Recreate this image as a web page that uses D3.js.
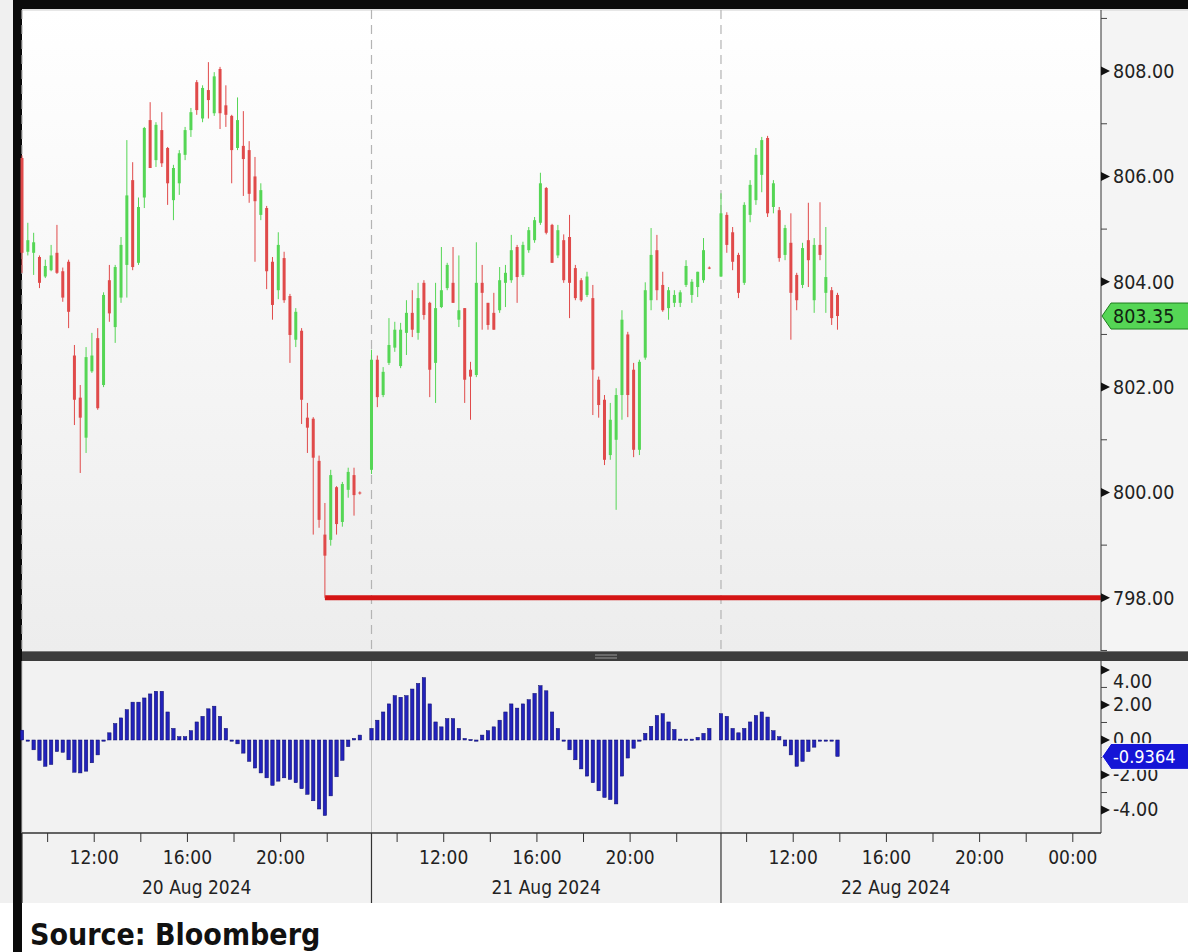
<!DOCTYPE html>
<html>
<head>
<meta charset="utf-8">
<script src="https://cdn.jsdelivr.net/npm/d3@7"></script>
<style>
  body { margin: 0; background: #fff; }
  svg { display: block; font-family: "DejaVu Sans Condensed", "DejaVu Sans", sans-serif; }
</style>
</head>
<body>
<script>
// ---- data (15 min bars, [open, high, low, close]) ----
var days = ["20 Aug 2024", "21 Aug 2024", "22 Aug 2024"];

var bars20 = [
  [806.35,806.40,804.17,804.55],[804.57,805.12,804.50,804.79],[804.55,804.93,804.13,804.75],[804.47,804.50,803.88,803.98],
  [804.10,804.42,804.07,804.30],[804.22,804.70,804.20,804.50],[804.55,805.08,804.15,804.17],[804.20,804.27,803.62,803.70],
  [804.38,804.42,803.12,803.43],[802.60,802.80,801.28,801.76],[801.80,802.04,800.37,801.42],[801.04,802.76,800.75,802.57],
  [802.30,803.03,802.27,802.60],[802.93,803.12,801.57,801.60],[802.04,803.80,802.00,803.75],[804.03,804.32,803.24,803.40],
  [803.14,804.32,802.84,804.28],[803.70,804.85,803.60,804.70],[804.32,806.69,803.70,805.64],[805.93,806.27,804.22,804.28],
  [804.36,805.60,804.32,805.42],[805.60,806.94,805.40,806.92],[807.07,807.41,806.16,806.16],[806.31,807.03,806.18,806.98],
  [806.88,807.22,806.18,806.25],[806.54,806.56,805.46,805.87],[805.55,806.22,805.17,806.16],[805.87,806.50,805.65,806.44],
  [806.41,806.94,806.31,806.88],[806.88,807.30,806.75,807.22],[807.79,807.83,807.17,807.26],[807.10,807.73,807.03,807.68],
  [807.64,808.17,807.10,807.45],[807.20,807.98,807.15,807.90],[808.04,808.08,806.90,807.20],[807.35,807.73,806.94,807.17],
  [807.15,807.17,805.87,806.50],[806.54,807.50,806.50,807.07],[806.58,807.24,805.63,806.33],[806.50,806.67,805.50,805.67],
  [806.00,806.37,804.38,805.53],[805.27,805.87,805.17,805.74],[805.40,805.44,803.86,804.20],[804.38,804.47,803.28,803.56],
  [803.84,804.94,803.67,804.70],[804.45,804.57,803.60,803.65],[803.73,803.77,802.46,802.99],[802.90,803.50,802.76,803.43],
  [803.07,803.12,801.30,801.76],[801.42,801.70,800.75,801.23],[801.40,801.43,799.20,800.66],[800.60,800.70,799.33,799.48],
  [799.20,799.80,798.00,798.80],[799.10,800.43,798.99,800.33],[800.10,800.12,799.20,799.40],[799.44,800.20,799.35,800.16],
  [800.05,800.47,799.90,800.39],[800.33,800.47,799.56,799.95],[800.00,800.02,799.96,799.98]
];

var bars21 = [
  [800.43,802.71,800.35,802.52],[802.52,802.60,801.62,801.81],[801.85,802.38,801.81,802.29],[802.46,803.31,802.42,802.80],
  [802.75,803.24,802.67,803.09],[802.40,803.22,802.36,803.09],[803.03,803.65,802.61,803.41],[803.41,803.84,802.95,803.09],
  [803.03,803.98,802.90,803.69],[803.98,804.03,803.28,803.37],[803.60,803.62,801.81,802.33],[802.46,803.98,801.70,803.50],
  [803.52,804.66,803.50,803.84],[803.88,804.36,803.84,804.32],[803.98,804.66,803.60,803.60],[803.28,804.50,803.14,803.46],
  [803.50,803.50,801.70,802.14],[802.33,802.48,801.38,802.20],[802.23,804.75,802.19,803.98],[803.98,804.32,803.09,803.79],
  [803.60,803.60,803.09,803.18],[803.41,803.79,803.09,803.09],[803.46,804.28,803.41,804.03],[803.98,804.32,803.52,804.17],
  [804.03,804.89,803.98,804.60],[804.66,804.70,803.60,804.09],[804.13,804.76,804.09,804.70],[804.60,805.04,804.55,804.98],
  [804.79,805.23,804.74,805.17],[805.12,806.07,805.08,805.87],[805.78,805.80,804.90,804.93],[805.08,805.10,804.36,804.36],
  [804.50,805.08,804.45,804.98],[804.79,804.90,803.98,804.03],[804.85,805.27,803.31,803.98],[804.26,804.32,803.65,803.69],
  [804.03,804.07,803.62,803.65],[803.75,804.19,803.71,804.10],[803.69,803.94,801.47,802.33],[802.14,802.20,801.42,801.66],
  [801.76,801.85,800.52,800.62],[800.71,801.70,800.62,801.38],[801.00,801.98,799.67,801.85],[801.85,803.46,801.38,803.28],
  [803.00,803.05,801.43,801.85],[802.33,802.46,800.67,800.81],[800.81,802.52,800.71,802.48],[802.56,803.99,802.52,803.84],
  [803.65,805.02,803.46,804.51],[804.60,804.89,803.65,803.84],[803.94,804.19,803.43,803.46],[803.50,803.90,803.28,803.84],
  [803.60,803.84,803.52,803.75],[803.60,803.84,803.52,803.80],[803.94,804.41,803.90,804.30],[803.75,804.05,803.60,804.00],
  [803.90,804.19,803.71,804.19],[804.03,804.83,803.98,804.60],[804.27,804.29,804.24,804.25]
];

var bars22 = [
  [804.10,805.68,804.09,805.30],[805.27,805.32,804.55,804.70],[804.94,805.04,804.22,804.38],[804.51,804.55,803.69,803.79],
  [803.98,805.51,803.94,805.46],[805.27,805.93,805.13,805.84],[805.55,806.54,805.46,806.41],[806.03,806.75,805.70,806.69],
  [806.73,806.77,805.23,805.30],[805.42,805.93,805.30,805.87],[805.36,805.42,804.38,804.45],[804.51,805.08,804.41,805.02],
  [804.74,805.30,802.90,803.79],[804.13,804.17,803.46,803.65],[803.94,804.74,803.88,804.64],[804.79,805.50,803.90,804.41],
  [803.65,804.83,803.41,804.70],[804.70,805.51,804.41,804.51],[803.79,805.04,803.41,804.09],[803.84,803.90,803.18,803.31],
  [803.75,803.79,803.09,803.35]
];

// lower study (histogram), one value per bar
var hist20 = [0.56,-0.05,-0.56,-1.16,-1.5,-1.4,-0.66,-0.7,-1.13,-1.84,-1.88,-1.78,-1.3,-0.85,-0.05,
  0.41,0.94,1.26,1.73,2.16,2.16,2.4,2.63,2.78,2.78,1.6,0.66,0.19,0.19,0.53,1.03,1.35,1.78,1.93,1.35,0.66,
  -0.02,-0.22,-0.75,-1.22,-1.6,-1.88,-2.16,-2.59,-2.35,-2.16,-2.25,-2.44,-2.78,-3.1,-3.47,-3.94,-4.31,
  -3.19,-2.1,-1.16,-0.38,0.09,0.28];
var hist21 = [0.66,1.13,1.6,2.06,2.53,2.44,2.53,2.91,3.23,3.56,2.06,1.03,0.75,1.22,1.22,0.66,0.09,0.03,-0.05,
  0.28,0.53,0.75,1.13,1.6,2.06,1.82,2.06,2.3,2.66,3.1,2.81,1.6,0.66,-0.05,-0.56,-1.13,-1.65,-2.06,-2.44,
  -2.9,-3.28,-3.4,-3.65,-2.06,-1.03,-0.47,-0.05,0.38,0.78,1.4,1.5,1.03,0.6,0.05,0.05,0.05,0.15,0.38,0.66];
var hist22 = [1.5,1.35,0.66,0.41,0.66,1.03,1.4,1.6,1.31,0.53,0.19,-0.34,-0.85,-1.5,-1.22,-0.66,-0.41,
  -0.05,-0.05,-0.05,-0.9364];

var priceTicks = [798, 800, 802, 804, 806, 808];
var priceMinor = [797, 799, 801, 803, 805, 807, 809];
var histTicks = [4, 2, 0, -2, -4];
var histMinor = [3, 1, -1, -3];
var hourTicks = [10, 12, 14, 16, 18, 20, 22];
var hourLabels = [12, 16, 20];
var lastPrice = 803.35;
var lastHist = -0.9364;
var lowLevel = 798.00;

// ---- layout ----
var W = 1188, H = 952;
var X0 = 22, X1 = 1101, TOP = 10, MID = 651, LTOP = 661, BOT = 833;
var sessionHours = 15, sessionStart = 8.9, barHours = 0.25;

// plain hyphen for negatives, like the terminal
var loc = d3.formatLocale({decimal: ".", thousands: ",", grouping: [3], currency: ["", ""], minus: "-"});
var f2 = loc.format(".2f"), f4 = loc.format(".4f");

var allBars = [bars20, bars21, bars22];
var allHist = [hist20, hist21, hist22];
var candles = [], hist = [];
allBars.forEach(function(list, di) {
  list.forEach(function(b, i) {
    candles.push({t: di * sessionHours + i * barHours, o: b[0], h: b[1], l: b[2], c: b[3]});
  });
  allHist[di].forEach(function(v, i) {
    hist.push({t: di * sessionHours + i * barHours, v: v});
  });
});

var x = d3.scaleLinear().domain([0, 46.31]).range([X0, X1]);
var y = d3.scaleLinear().domain([796.99, 809.16]).range([MID, TOP]);
var yh = d3.scaleLinear().domain([-5.31, 4.51]).range([BOT, LTOP]);

var svg = d3.select("body").append("svg").attr("width", W).attr("height", H);

var defs = svg.append("defs");
var grad = defs.append("linearGradient").attr("id", "bg").attr("x1", 0).attr("y1", 0).attr("x2", 0).attr("y2", 1);
grad.append("stop").attr("offset", "0%").attr("stop-color", "#ffffff");
grad.append("stop").attr("offset", "100%").attr("stop-color", "#ededed");

// backgrounds
svg.append("rect").attr("width", W).attr("height", H).attr("fill", "#f0f0f0");
svg.append("rect").attr("x", X0).attr("y", TOP).attr("width", X1 - X0).attr("height", MID - TOP).attr("fill", "url(#bg)");
svg.append("rect").attr("x", X1).attr("y", TOP).attr("width", W - X1).attr("height", MID - TOP).attr("fill", "#f4f4f4");
svg.append("rect").attr("x", X0).attr("y", LTOP).attr("width", W - X0).attr("height", BOT - LTOP).attr("fill", "#f2f2f2");
svg.append("rect").attr("x", X0).attr("y", BOT).attr("width", W - X0).attr("height", 70).attr("fill", "#f2f2f2");
svg.append("rect").attr("x", X0).attr("y", 903).attr("width", W - X0).attr("height", H - 903).attr("fill", "#ffffff");
svg.append("rect").attr("x", 0).attr("y", 903).attr("width", 13).attr("height", H - 903).attr("fill", "#ffffff");

// frame
svg.append("rect").attr("x", 13).attr("y", 0).attr("width", W - 13).attr("height", 9).attr("fill", "#0a0a0a");
svg.append("rect").attr("x", 13).attr("y", 0).attr("width", 9).attr("height", H).attr("fill", "#0a0a0a");
svg.append("line").attr("x1", X0).attr("x2", W).attr("y1", TOP).attr("y2", TOP).attr("stroke", "#cfcfcf");

// day boundaries
var dayStarts = days.map(function(d, i) { return i * sessionHours; });
svg.selectAll("line.daydash").data(dayStarts).enter().append("line")
  .attr("x1", function(d) { return x(d); }).attr("x2", function(d) { return x(d); })
  .attr("y1", TOP).attr("y2", MID)
  .attr("stroke", "#b4b4b4").attr("stroke-width", 1.2).attr("stroke-dasharray", "9,6");
svg.selectAll("line.daylow").data(dayStarts).enter().append("line")
  .attr("x1", function(d) { return x(d); }).attr("x2", function(d) { return x(d); })
  .attr("y1", LTOP).attr("y2", BOT)
  .attr("stroke", "#c4c4c4").attr("stroke-width", 1);

// low level line
var lowBar = candles.filter(function(c) { return c.l === lowLevel; })[0];
svg.append("line").attr("x1", x(lowBar.t)).attr("x2", X1)
  .attr("y1", y(lowLevel)).attr("y2", y(lowLevel))
  .attr("stroke", "#d41414").attr("stroke-width", 5);

// candles
var up = "#55d655", down = "#e04a4a";
var cg = svg.append("g");
cg.selectAll("line").data(candles).enter().append("line")
  .attr("x1", function(d) { return x(d.t); }).attr("x2", function(d) { return x(d.t); })
  .attr("y1", function(d) { return y(d.h); }).attr("y2", function(d) { return y(d.l); })
  .attr("stroke", function(d) { return d.c >= d.o ? up : down; }).attr("stroke-width", 1);
cg.selectAll("rect").data(candles).enter().append("rect")
  .attr("x", function(d) { return x(d.t) - 1.5; }).attr("width", 3)
  .attr("y", function(d) { return y(Math.max(d.o, d.c)); })
  .attr("height", function(d) { return Math.max(1, Math.abs(y(d.o) - y(d.c))); })
  .attr("fill", function(d) { return d.c >= d.o ? up : down; });

// histogram
svg.append("g").selectAll("rect").data(hist).enter().append("rect")
  .attr("x", function(d) { return x(d.t) - 1.7; }).attr("width", 3.4)
  .attr("y", function(d) { return Math.min(yh(d.v), yh(0)); })
  .attr("height", function(d) { return Math.max(1.2, Math.abs(yh(d.v) - yh(0))); })
  .attr("fill", "#2222bb").attr("stroke", "#0b0b66").attr("stroke-width", 0.5);

// separator between panels
svg.append("rect").attr("x", X0).attr("y", MID).attr("width", W - X0).attr("height", LTOP - MID).attr("fill", "#3c3c3c");
svg.append("line").attr("x1", X0).attr("x2", W).attr("y1", MID + 0.5).attr("y2", MID + 0.5).attr("stroke", "#7a7a7a");
[655, 658].forEach(function(gy) {
  svg.append("line").attr("x1", 595).attr("x2", 617).attr("y1", gy).attr("y2", gy).attr("stroke", "#8a8a8a").attr("stroke-width", 1.2);
});

// right axis lines
svg.append("line").attr("x1", X1).attr("x2", X1).attr("y1", TOP).attr("y2", MID).attr("stroke", "#333");
svg.append("line").attr("x1", X1).attr("x2", X1).attr("y1", LTOP).attr("y2", BOT).attr("stroke", "#333");
svg.append("line").attr("x1", X0).attr("x2", X1).attr("y1", BOT).attr("y2", BOT).attr("stroke", "#333").attr("stroke-width", 1.5);

var arrow = "M0,-4.5L9,0L0,4.5Z";

// price axis
var pAxis = svg.append("g").attr("transform", "translate(" + X1 + ",0)")
  .call(d3.axisRight(y).tickValues(priceTicks).tickFormat(f2).tickSize(0).tickPadding(12));
pAxis.select(".domain").remove();
pAxis.selectAll("text").attr("font-size", 19.5).attr("fill", "#222").attr("font-family", "DejaVu Sans Condensed, DejaVu Sans, sans-serif");
svg.selectAll("path.parrow").data(priceTicks).enter().append("path")
  .attr("d", arrow).attr("fill", "#111")
  .attr("transform", function(d) { return "translate(" + X1 + "," + y(d) + ")"; });
svg.selectAll("line.pminor").data(priceMinor).enter().append("line")
  .attr("x1", X1).attr("x2", X1 + 6)
  .attr("y1", function(d) { return y(d); }).attr("y2", function(d) { return y(d); })
  .attr("stroke", "#444");

// histogram axis
var hAxis = svg.append("g").attr("transform", "translate(" + X1 + ",0)")
  .call(d3.axisRight(yh).tickValues(histTicks).tickFormat(f2).tickSize(0).tickPadding(12));
hAxis.select(".domain").remove();
hAxis.selectAll("text").attr("font-size", 19.5).attr("fill", "#222").attr("font-family", "DejaVu Sans Condensed, DejaVu Sans, sans-serif");
hAxis.selectAll(".tick").attr("transform", function(d) { return "translate(0," + Math.max(yh(d), LTOP + 21) + ")"; });
svg.selectAll("path.harrow").data(histTicks).enter().append("path")
  .attr("d", arrow).attr("fill", "#111")
  .attr("transform", function(d) { return "translate(" + X1 + "," + yh(d) + ")"; });
svg.selectAll("line.hminor").data(histMinor).enter().append("line")
  .attr("x1", X1).attr("x2", X1 + 6)
  .attr("y1", function(d) { return yh(d); }).attr("y2", function(d) { return yh(d); })
  .attr("stroke", "#444");

// last value tags
function tag(yy, fill, stroke, textColor, label, size) {
  var g = svg.append("g").attr("transform", "translate(" + (X1 + 1) + "," + yy + ")");
  g.append("path").attr("d", "M0,0L9,-13L87,-13L87,13L9,13Z")
    .attr("fill", fill).attr("stroke", stroke).attr("stroke-width", 1);
  g.append("text").attr("x", 11).attr("y", 7).attr("font-size", size).attr("fill", textColor).text(label);
}
tag(y(lastPrice), "#55d655", "#1d7d1d", "#112211", f2(lastPrice), 19.5);
tag(yh(lastHist), "#1515d6", "#ffffff", "#ffffff", f4(lastHist), 18);

// time axis
var ticks = [];
days.forEach(function(d, di) {
  var hs = hourTicks.slice();
  if (di === days.length - 1) hs.push(24);
  hs.forEach(function(h) { ticks.push({t: di * sessionHours + h - sessionStart, h: h}); });
});
svg.selectAll("line.tt").data(ticks).enter().append("line")
  .attr("x1", function(d) { return x(d.t); }).attr("x2", function(d) { return x(d.t); })
  .attr("y1", BOT).attr("y2", BOT + 9).attr("stroke", "#333");
svg.selectAll("text.tl").data(ticks.filter(function(d) { return hourLabels.indexOf(d.h) >= 0 || d.h === 24; }))
  .enter().append("text")
  .attr("x", function(d) { return x(d.t); }).attr("y", 864)
  .attr("text-anchor", "middle").attr("font-size", 19).attr("fill", "#222")
  .text(function(d) { return (d.h === 24 ? "00" : d3.format("02d")(d.h)) + ":00"; });
svg.selectAll("line.dsep").data(dayStarts).enter().append("line")
  .attr("x1", function(d) { return x(d); }).attr("x2", function(d) { return x(d); })
  .attr("y1", BOT).attr("y2", 903).attr("stroke", "#333").attr("stroke-width", 1.2);
svg.selectAll("text.dl").data(days).enter().append("text")
  .attr("x", function(d, i) { return x(i * sessionHours + sessionHours / 2); }).attr("y", 894)
  .attr("text-anchor", "middle").attr("font-size", 19).attr("fill", "#222")
  .text(function(d) { return d; });

// source
svg.append("text").attr("x", 30).attr("y", 945).attr("font-size", 30).attr("font-weight", "bold")
  .attr("fill", "#111").text("Source: Bloomberg");
</script>
</body>
</html>
